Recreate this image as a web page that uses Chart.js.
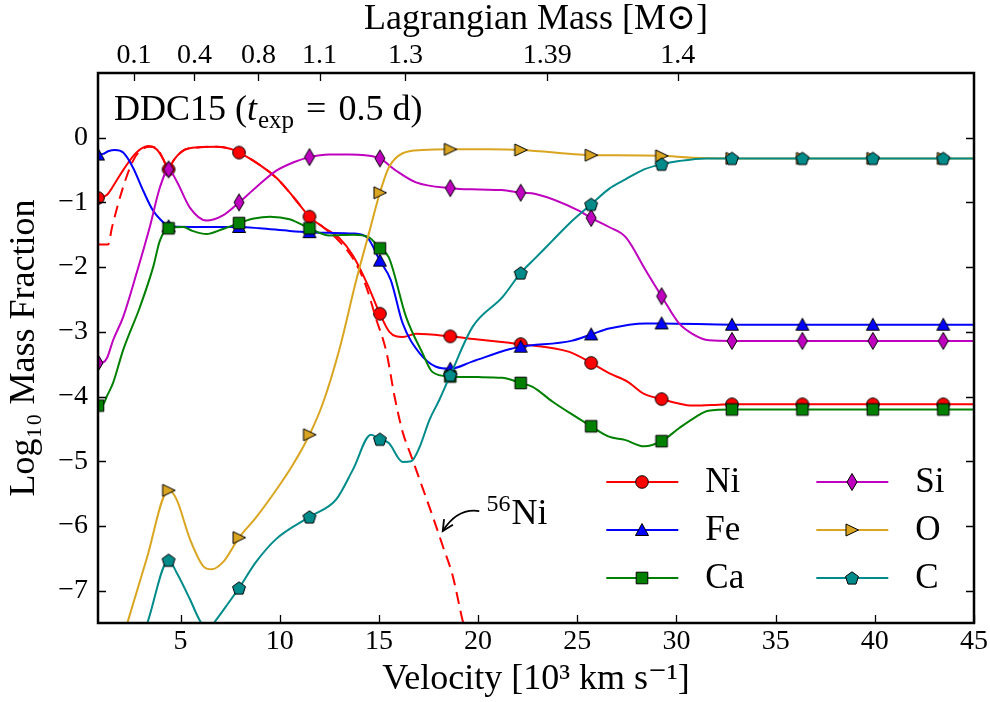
<!DOCTYPE html>
<html><head><meta charset="utf-8">
<script src="https://cdn.jsdelivr.net/npm/chart.js@4.4.0/dist/chart.umd.min.js"></script>
<style>html,body{margin:0;padding:0;background:#fff;}canvas{display:block;}</style>
</head><body>
<canvas id="c" width="990" height="702"></canvas>
<script>
// ---------------- data (velocity [10^3 km/s], log10 mass fraction) ----------------
const V_MIN = 0.84, V_MAX = 45;
const markerVel = [0.84, 4.4, 7.95, 11.5, 15.05, 18.6, 22.15, 25.7, 29.25, 32.8, 36.35, 39.9, 43.45];
const velTicks = [5, 10, 15, 20, 25, 30, 35, 40, 45];
const yTicks = [0, -1, -2, -3, -4, -5, -6, -7];
const massTickVel = [2.65, 5.70, 8.93, 12.01, 16.34, 23.49, 30.07];
const massTickLabels = ['0.1', '0.4', '0.8', '1.1', '1.3', '1.39', '1.4'];

const ni = [[0.84,-0.93],[1.3,-0.88],[1.7,-0.7],[2.11,-0.5],[2.78,-0.23],[3.37,-0.13],[3.79,-0.18],[4.13,-0.33],[4.4,-0.49],[4.63,-0.36],[5.13,-0.2],[5.8,-0.15],[6.8,-0.14],[7.5,-0.17],[7.95,-0.23],[8.8,-0.38],[9.83,-0.62],[10.7,-0.92],[11.5,-1.22],[12.18,-1.38],[13.0,-1.55],[13.69,-1.82],[14.4,-2.25],[15.05,-2.72],[15.53,-3.0],[16.2,-3.08],[16.87,-3.03],[18.6,-3.07],[20.0,-3.12],[21.57,-3.17],[22.15,-3.19],[24.6,-3.31],[25.7,-3.48],[26.6,-3.64],[27.53,-3.77],[28.37,-3.96],[29.25,-4.04],[30.0,-4.1],[30.8,-4.14],[31.8,-4.13],[32.8,-4.12],[36.35,-4.12],[39.9,-4.12],[43.45,-4.12],[45,-4.12]];
const ni56 = [[0.84,-1.65],[1.35,-1.65],[1.55,-1.38],[2.1,-0.77],[2.6,-0.36],[3.1,-0.17],[3.55,-0.14],[3.9,-0.2],[4.15,-0.35],[4.4,-0.49],[4.63,-0.36],[5.13,-0.2],[5.8,-0.15],[6.8,-0.14],[7.5,-0.17],[7.95,-0.23],[8.8,-0.38],[9.83,-0.62],[10.7,-0.92],[11.5,-1.22],[12.18,-1.38],[13.0,-1.6],[13.86,-1.95],[14.36,-2.3],[14.86,-2.8],[15.37,-3.3],[15.79,-4.0],[16.2,-4.55],[16.63,-4.92],[17.05,-5.28],[17.71,-5.85],[18.22,-6.31],[18.72,-6.77],[19.22,-7.46],[19.6,-7.9]];
const fe = [[0.84,-0.26],[1.1,-0.25],[1.35,-0.21],[1.7,-0.19],[2.11,-0.23],[2.6,-0.46],[3.12,-0.82],[3.62,-1.13],[4.04,-1.28],[4.4,-1.37],[5.5,-1.38],[7.95,-1.38],[9.0,-1.4],[10.5,-1.44],[11.5,-1.46],[12.5,-1.47],[13.7,-1.48],[14.4,-1.54],[15.05,-1.9],[15.6,-2.2],[16.2,-2.87],[17.05,-3.33],[17.88,-3.54],[18.6,-3.57],[19.7,-3.46],[21.57,-3.27],[22.15,-3.23],[24.7,-3.14],[25.7,-3.04],[26.6,-2.95],[28.45,-2.87],[29.25,-2.87],[32.8,-2.89],[36.35,-2.89],[39.9,-2.89],[43.45,-2.89],[45,-2.89]];
const ca = [[0.84,-4.14],[1.1,-4.12],[1.28,-4.0],[1.6,-3.79],[2.11,-3.28],[2.95,-2.62],[3.62,-2.0],[3.96,-1.59],[4.4,-1.4],[5.13,-1.38],[5.6,-1.44],[6.3,-1.49],[7.14,-1.41],[7.95,-1.32],[8.7,-1.25],[9.5,-1.22],[10.5,-1.26],[11.5,-1.4],[12.5,-1.51],[13.7,-1.5],[14.5,-1.54],[15.05,-1.71],[15.5,-1.85],[16.37,-2.77],[17.2,-3.33],[17.7,-3.62],[18.6,-3.69],[20.0,-3.7],[21.2,-3.71],[22.15,-3.79],[22.75,-3.85],[23.76,-4.08],[24.76,-4.28],[25.7,-4.46],[26.6,-4.62],[27.4,-4.67],[28.37,-4.77],[29.25,-4.69],[30.13,-4.49],[31.0,-4.31],[31.6,-4.22],[32.8,-4.2],[36.35,-4.2],[39.9,-4.2],[43.45,-4.2],[45,-4.2]];
const si = [[0.84,-3.48],[1.1,-3.47],[1.3,-3.4],[1.6,-3.13],[2.11,-2.77],[2.78,-2.1],[3.45,-1.38],[3.96,-0.77],[4.4,-0.49],[4.8,-0.67],[5.47,-1.08],[6.3,-1.28],[7.14,-1.2],[7.95,-1.0],[8.8,-0.77],[9.83,-0.51],[10.7,-0.38],[11.5,-0.3],[12.5,-0.26],[13.5,-0.26],[14.3,-0.27],[15.05,-0.32],[15.87,-0.51],[16.87,-0.69],[18.6,-0.78],[20.07,-0.8],[21.2,-0.81],[22.15,-0.85],[22.9,-0.87],[25.1,-1.13],[25.7,-1.24],[26.6,-1.38],[27.45,-1.54],[28.45,-2.05],[29.25,-2.45],[30.13,-2.87],[30.8,-3.03],[31.64,-3.13],[32.8,-3.14],[36.35,-3.14],[39.9,-3.14],[43.45,-3.14],[45,-3.14]];
const ox = [[0.84,-9.0],[2.36,-7.46],[3.29,-6.51],[4.4,-5.45],[4.8,-5.59],[5.47,-6.2],[6.14,-6.62],[6.56,-6.67],[7.14,-6.56],[7.95,-6.18],[8.8,-5.87],[9.83,-5.44],[10.67,-5.05],[11.5,-4.59],[12.18,-4.1],[13.0,-3.28],[13.86,-2.2],[14.53,-1.44],[15.05,-0.85],[15.5,-0.46],[16.2,-0.24],[17.2,-0.19],[18.6,-0.18],[20.5,-0.18],[22.15,-0.19],[25.1,-0.26],[25.7,-0.27],[27.0,-0.27],[29.25,-0.28],[30.8,-0.31],[32.8,-0.32],[36.35,-0.32],[39.9,-0.32],[43.45,-0.32],[45,-0.32]];
const cc = [[0.84,-9.8],[3.37,-7.46],[4.4,-6.53],[4.8,-6.72],[5.47,-7.13],[5.97,-7.46],[6.4,-7.62],[6.78,-7.46],[7.95,-6.96],[8.8,-6.56],[9.83,-6.2],[11.5,-5.86],[12.85,-5.59],[13.69,-5.13],[14.6,-4.59],[15.05,-4.66],[15.5,-4.72],[16.2,-5.01],[16.63,-5.0],[17.04,-4.79],[17.55,-4.36],[18.05,-4.05],[18.6,-3.67],[19.73,-2.92],[21.24,-2.46],[22.15,-2.09],[22.92,-1.85],[23.75,-1.59],[24.76,-1.28],[25.7,-1.03],[26.6,-0.79],[27.45,-0.64],[28.37,-0.49],[29.25,-0.41],[30.13,-0.36],[31.5,-0.32],[32.8,-0.32],[36.35,-0.32],[39.9,-0.32],[43.45,-0.32],[45,-0.32]];

const names = ['Ni', 'Fe', 'Ca', 'Si', 'O', 'C'];
const colors = ['#ff0000', '#0000ff', '#008000', '#bf00bf', '#daa520', '#008b8b'];
const markerKinds = ['circle', 'tri', 'square', 'diamond', 'rtri', 'pent'];
const series = [ni, fe, ca, si, ox, cc];

// ---------------- styling ----------------
const FONT = '"Liberation Serif", "DejaVu Serif", serif';

function makeMarker(kind, fill) {
  const s = 22, c = document.createElement('canvas');
  c.width = s; c.height = s;
  const g = c.getContext('2d');
  g.translate(s / 2, s / 2);
  g.beginPath();
  if (kind === 'circle') g.arc(0, 0, 6.3, 0, 2 * Math.PI);
  else if (kind === 'tri') { g.moveTo(0, -6.5); g.lineTo(6.5, 5.5); g.lineTo(-6.5, 5.5); g.closePath(); }
  else if (kind === 'square') g.rect(-5.8, -5.8, 11.6, 11.6);
  else if (kind === 'diamond') { g.moveTo(0, -8.5); g.lineTo(5, 0); g.lineTo(0, 8.5); g.lineTo(-5, 0); g.closePath(); }
  else if (kind === 'rtri') { g.moveTo(6.5, 0); g.lineTo(-6, -6); g.lineTo(-6, 6); g.closePath(); }
  else if (kind === 'pent') {
    for (let i = 0; i < 5; i++) {
      const a = -Math.PI / 2 + i * 2 * Math.PI / 5;
      const px = 6.8 * Math.cos(a), py = 6.8 * Math.sin(a) + 0.6;
      if (i === 0) g.moveTo(px, py); else g.lineTo(px, py);
    }
    g.closePath();
  }
  g.fillStyle = fill; g.fill();
  g.lineWidth = 1; g.strokeStyle = '#000'; g.stroke();
  return c;
}
const markerImgs = markerKinds.map((k, i) => makeMarker(k, colors[i]));
const isMarker = x => markerVel.some(m => Math.abs(m - x) < 1e-6);
const toPts = arr => arr.map(([x, y]) => ({x, y}));

const datasets = [];
series.forEach((s, i) => {
  datasets.push({
    label: names[i], data: toPts(s),
    borderColor: colors[i], borderWidth: 2,
    pointStyle: markerImgs[i],
    pointRadius: ctx => (ctx.raw && isMarker(ctx.raw.x)) ? 6 : 0,
    pointHoverRadius: 0,
    cubicInterpolationMode: 'monotone',
    order: i === 0 ? 20 : 10 - i
  });
  if (i === 0) {
    datasets.push({
      label: '56Ni', data: toPts(ni56),
      borderColor: colors[0], borderWidth: 2, borderDash: [12, 7],
      pointRadius: 0, pointHoverRadius: 0,
      cubicInterpolationMode: 'monotone', order: 15
    });
  }
});

// ---------------- decorations plugin ----------------
const decor = {
  id: 'decor',
  afterDatasetsDraw(chart) {
    const {ctx, chartArea: a, scales} = chart;
    const X = scales.x, Y = scales.y, X2 = scales.x2;
    ctx.save();
    // inside ticks
    ctx.strokeStyle = '#000'; ctx.lineWidth = 1.3;
    const L = 8;
    ctx.beginPath();
    X.ticks.forEach(t => { const p = Math.round(X.getPixelForValue(t.value)) + 0.5; ctx.moveTo(p, a.bottom); ctx.lineTo(p, a.bottom - L); });
    X2.ticks.forEach(t => { const p = Math.round(X2.getPixelForValue(t.value)) + 0.5; ctx.moveTo(p, a.top); ctx.lineTo(p, a.top + L); });
    Y.ticks.forEach(t => { const p = Math.round(Y.getPixelForValue(t.value)) + 0.5; ctx.moveTo(a.left, p); ctx.lineTo(a.left + L, p); ctx.moveTo(a.right, p); ctx.lineTo(a.right - L, p); });
    ctx.stroke();
    // frame
    ctx.lineWidth = 2.5;
    ctx.strokeRect(a.left, a.top, a.right - a.left, a.bottom - a.top);

    // model annotation
    ctx.fillStyle = '#000';
    ctx.textBaseline = 'alphabetic';
    let tx = a.left + 16, ty = a.top + 47;
    ctx.font = '36px ' + FONT;
    ctx.fillText('DDC15 (', tx, ty); tx += ctx.measureText('DDC15 (').width;
    ctx.font = 'italic 36px ' + FONT;
    ctx.fillText('t', tx, ty); tx += ctx.measureText('t').width + 1;
    ctx.font = '25px ' + FONT;
    ctx.fillText('exp', tx, ty + 8); tx += ctx.measureText('exp').width + 12;
    ctx.font = '36px ' + FONT;
    ctx.fillText('=', tx, ty); tx += ctx.measureText('=').width + 12;
    ctx.fillText('0.5 d)', tx, ty);

    // 56Ni arrow annotation
    const tip = {x: X.getPixelForValue(18.22), y: Y.getPixelForValue(-6.08)};
    const tail = {x: X.getPixelForValue(20.06), y: Y.getPixelForValue(-5.77)};
    const ctrl = {x: X.getPixelForValue(18.95), y: Y.getPixelForValue(-5.72)};
    ctx.lineWidth = 1.8;
    ctx.beginPath();
    ctx.moveTo(tail.x, tail.y);
    ctx.quadraticCurveTo(ctrl.x, ctrl.y, tip.x, tip.y);
    ctx.stroke();
    const ang = Math.atan2(tip.y - ctrl.y, tip.x - ctrl.x);
    const hl = 12, ha = 0.45;
    ctx.beginPath();
    ctx.moveTo(tip.x - hl * Math.cos(ang - ha), tip.y - hl * Math.sin(ang - ha));
    ctx.lineTo(tip.x, tip.y);
    ctx.lineTo(tip.x - hl * Math.cos(ang + ha), tip.y - hl * Math.sin(ang + ha));
    ctx.stroke();
    let lx = X.getPixelForValue(20.42), ly = Y.getPixelForValue(-5.97);
    ctx.font = '24px ' + FONT;
    ctx.fillText('56', lx, ly - 13); lx += ctx.measureText('56').width + 1;
    ctx.font = '36px ' + FONT;
    ctx.fillText('Ni', lx, ly);

    // legend (lower right)
    const rowH = 48.3;
    const baseY = a.bottom - 44.7;
    const cols = [a.right - 367.7, a.right - 157.7];
    ctx.font = '35px ' + FONT;
    ctx.textBaseline = 'middle';
    names.forEach((n, i) => {
      const col = Math.floor(i / 3), row = i % 3;
      const x0 = cols[col], y0 = Math.round(baseY - (2 - row) * rowH);
      ctx.strokeStyle = colors[i]; ctx.lineWidth = 2;
      ctx.beginPath(); ctx.moveTo(x0, y0); ctx.lineTo(x0 + 72, y0); ctx.stroke();
      const img = markerImgs[i];
      ctx.drawImage(img, Math.round(x0 + 36 - img.width / 2), Math.round(y0 - img.height / 2));
      ctx.fillStyle = '#000';
      ctx.fillText(n, x0 + 99, y0 + 1);
    });
    ctx.restore();
  }
};

const tickFont = {family: FONT, size: 28};
const titleFont = {family: FONT, size: 36};

new Chart(document.getElementById('c'), {
  type: 'line',
  data: {datasets},
  options: {
    responsive: false, animation: false, devicePixelRatio: 1,
    layout: {padding: {left: 0, right: 15, top: 0, bottom: 0}},
    plugins: {legend: {display: false}, tooltip: {enabled: false}},
    scales: {
      x: {
        type: 'linear', position: 'bottom', min: V_MIN, max: V_MAX,
        afterBuildTicks: s => { s.ticks = velTicks.map(v => ({value: v})); },
        afterFit: s => { s.height = 79; },
        grid: {display: false, drawTicks: false}, border: {display: false},
        ticks: {color: '#000', font: tickFont, padding: 2, maxRotation: 0, autoSkip: false, callback: v => String(v)},
        title: {display: true, text: 'Velocity [10³ km s⁻¹]', color: '#000', font: titleFont, padding: {top: 0, bottom: 1}}
      },
      x2: {
        type: 'linear', position: 'top', min: V_MIN, max: V_MAX,
        afterBuildTicks: s => { s.ticks = massTickVel.map(v => ({value: v})); },
        afterFit: s => { s.height = 73; },
        grid: {display: false, drawTicks: false}, border: {display: false},
        ticks: {color: '#000', font: tickFont, padding: 1, maxRotation: 0, autoSkip: false, callback: (v, i) => massTickLabels[i]},
        title: {display: true, text: 'Lagrangian Mass [M⊙]', color: '#000', font: titleFont, padding: {top: -2, bottom: 0}}
      },
      y: {
        type: 'linear', position: 'left', min: -7.5, max: 1,
        afterBuildTicks: s => { s.ticks = yTicks.map(v => ({value: v})); },
        afterFit: s => { s.width = 98; },
        grid: {display: false, drawTicks: false}, border: {display: false},
        ticks: {color: '#000', font: tickFont, padding: 10, autoSkip: false, callback: v => v < 0 ? '\u2212' + (-v) : String(v)},
        title: {display: true, text: 'Log₁₀ Mass Fraction', color: '#000', font: titleFont, padding: {top: 3, bottom: 0}}
      }
    }
  },
  plugins: [decor]
});
</script>
</body></html>
